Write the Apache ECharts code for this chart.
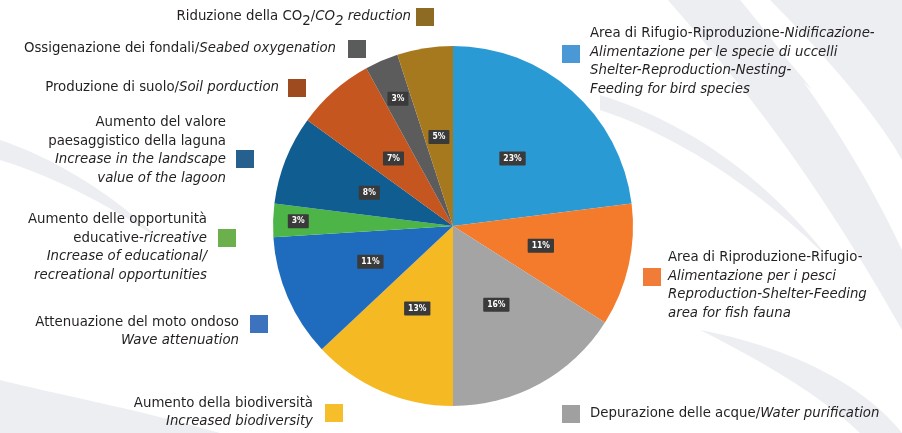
<!DOCTYPE html>
<html>
<head>
<meta charset="utf-8">
<script src="https://cdn.jsdelivr.net/npm/echarts@6/dist/echarts.min.js"></script>
<style>
  html, body { margin: 0; padding: 0; background: #ffffff; }
  #chart { width: 902px; height: 433px; }
</style>
</head>
<body>
<div id="chart"></div>
<script>
// Ecosystem services of the lagoon wetlands, share of total (%)
const categories = [
  'Area di Rifugio-Riproduzione-Nidificazione-Alimentazione per le specie di uccelli',
  'Area di Riproduzione-Rifugio-Alimentazione per i pesci',
  'Depurazione delle acque',
  'Aumento della biodiversità',
  'Attenuazione del moto ondoso',
  'Aumento delle opportunità educative-ricreative',
  'Aumento del valore paesaggistico della laguna',
  'Produzione di suolo',
  'Ossigenazione dei fondali',
  'Riduzione della CO2'
];
const values = [23, 11, 16, 13, 11, 3, 8, 7, 3, 5];
const sliceColors = ['#2a9ad5', '#f37b2b', '#a4a4a4', '#f5b924', '#1f6cbe',
                     '#4db548', '#0f5d91', '#c6561f', '#5c5c5c', '#a7791f'];
const keyColors = ['#4a99d6', '#f07c38', '#a0a0a0', '#f7be2b', '#3d72bf',
                   '#6bb04d', '#25608f', '#9e4b1f', '#5a5c5c', '#8e6b22'];
// How far out (fraction of radius) each percentage tag sits
const labelRadius = [0.5, 0.5, 0.5, 0.5, 0.5, 0.86, 0.5, 0.5, 0.77, 0.5];

// Legend text, one array of lines per category; each token is [text, style]
// where style 'n' = upright, 'i' = italic, 's'/'si' = subscript
const legendLines = [
  [[['Area di Rifugio-Riproduzione-', 'n'], ['Nidificazione-', 'i']],
   [['Alimentazione per le specie di uccelli', 'i']],
   [['Shelter-Reproduction-Nesting-', 'i']],
   [['Feeding for bird species', 'i']]],
  [[['Area di Riproduzione-Rifugio-', 'n']],
   [['Alimentazione per i pesci', 'i']],
   [['Reproduction-Shelter-Feeding', 'i']],
   [['area for fish fauna', 'i']]],
  [[['Depurazione delle acque/', 'n'], ['Water purification', 'i']]],
  [[['Aumento della biodiversità', 'n']],
   [['Increased biodiversity', 'i']]],
  [[['Attenuazione del moto ondoso', 'n']],
   [['Wave attenuation', 'i']]],
  [[['Aumento delle opportunità', 'n']],
   [['educative-', 'n'], ['ricreative', 'i']],
   [['Increase of educational/', 'i']],
   [['recreational opportunities', 'i']]],
  [[['Aumento del valore', 'n']],
   [['paesaggistico della laguna', 'n']],
   [['Increase in the landscape', 'i']],
   [['value of the lagoon', 'i']]],
  [[['Produzione di suolo/', 'n'], ['Soil porduction', 'i']]],
  [[['Ossigenazione dei fondali/', 'n'], ['Seabed oxygenation', 'i']]],
  [[['Riduzione della CO', 'n'], ['2', 's'], ['/', 'n'], ['CO', 'i'], ['2', 'si'], [' reduction', 'i']]]
];

// Placement of each legend entry: text anchor, alignment, and key square
const legendPlace = [
  { x: 590, y: 61,  align: 'left',  sq: [562, 45] },
  { x: 668, y: 285, align: 'left',  sq: [643, 268] },
  { x: 590, y: 413, align: 'left',  sq: [562, 405] },
  { x: 313, y: 412, align: 'right', sq: [325, 404] },
  { x: 239, y: 331, align: 'right', sq: [250, 315] },
  { x: 207, y: 247, align: 'right', sq: [218, 229] },
  { x: 226, y: 150, align: 'right', sq: [236, 150] },
  { x: 279, y: 87,  align: 'right', sq: [288, 79] },
  { x: 336, y: 48,  align: 'right', sq: [348, 40] },
  { x: 411, y: 16,  align: 'right', sq: [416, 8] }
];

const FONT = '"Liberation Sans Narrow", "DejaVu Sans Condensed", "Noto Sans", sans-serif';
const FS = 14.8;
const TEXT_COLOR = '#231f20';
const LINE_H = 18.6;
const SUB_DROP = 5;

const richStyles = {
  n: { fontFamily: FONT, fontSize: FS, color: TEXT_COLOR, lineHeight: LINE_H },
  i: { fontFamily: FONT, fontSize: FS, fontStyle: 'italic', color: TEXT_COLOR, lineHeight: LINE_H }
};

function richString(lines) {
  return lines.map(line => line.map(([t, s]) => '{' + s + '|' + t + '}').join('')).join('\n');
}

const measureCtx = document.createElement('canvas').getContext('2d');
function tokenFont(s) {
  return (s === 'i' || s === 'si' ? 'italic ' : '') + FS + 'px ' + FONT;
}
function tokenWidth(t, s) {
  measureCtx.font = tokenFont(s);
  return measureCtx.measureText(t).width;
}

// Turn a simple M/L/C/Z outline into polygon points
function outline(d) {
  const tok = d.match(/[MLCZ]|-?\d+(\.\d+)?/g);
  const pts = [];
  let i = 0, cur = [0, 0];
  const num = () => parseFloat(tok[i++]);
  while (i < tok.length) {
    const cmd = tok[i++];
    if (cmd === 'M' || cmd === 'L') {
      cur = [num(), num()];
      pts.push(cur);
    } else if (cmd === 'C') {
      const p1 = [num(), num()], p2 = [num(), num()], p3 = [num(), num()];
      const p0 = cur;
      for (let s = 1; s <= 24; s++) {
        const t = s / 24, u = 1 - t;
        pts.push([
          u*u*u*p0[0] + 3*u*u*t*p1[0] + 3*u*t*t*p2[0] + t*t*t*p3[0],
          u*u*u*p0[1] + 3*u*u*t*p1[1] + 3*u*t*t*p2[1] + t*t*t*p3[1]
        ]);
      }
      cur = p3;
    }
  }
  return pts;
}

// Faint background swooshes
const BG = '#eceef2';
const backdrop = [
  'M 668 0 C 720 60 800 150 902 330 L 902 250 C 850 140 790 60 740 0 Z',
  'M 770 0 C 830 60 880 120 902 160 L 902 0 Z',
  'M 600 95 C 680 120 760 170 830 260 C 770 200 690 140 600 110 Z',
  'M 700 330 C 780 345 860 380 902 433 L 860 433 C 820 395 760 360 700 330 Z',
  'M 0 380 C 60 395 140 410 220 433 L 0 433 Z',
  'M 0 140 C 60 160 120 200 160 240 C 110 205 50 175 0 160 Z',
  'M 720 0 C 760 30 790 60 812 90 C 780 60 750 30 705 0 Z'
];

const graphics = [];
backdrop.forEach(p => graphics.push({
  type: 'polygon', shape: { points: outline(p) }, style: { fill: BG }, z: -10, silent: true
}));

legendLines.forEach((lines, k) => {
  const pl = legendPlace[k];
  graphics.push({
    type: 'rect',
    shape: { x: pl.sq[0], y: pl.sq[1], width: 18, height: 18 },
    style: { fill: keyColors[k] },
    silent: true
  });
  const hasSub = lines.some(line => line.some(([, s]) => s[0] === 's'));
  if (!hasSub) {
    graphics.push({
      type: 'text',
      x: pl.x, y: pl.y,
      style: {
        text: richString(lines),
        rich: richStyles,
        align: pl.align,
        verticalAlign: 'middle',
        font: FS + 'px ' + FONT,
        fill: TEXT_COLOR
      },
      silent: true
    });
  } else {
    // single line with subscripts: lay the pieces out one after another
    const toks = lines[0];
    const widths = toks.map(([t, s]) => tokenWidth(t, s));
    const total = widths.reduce((a, b) => a + b, 0);
    let x = pl.align === 'right' ? pl.x - total : pl.x;
    toks.forEach(([t, s], j) => {
      graphics.push({
        type: 'text',
        x: x, y: pl.y + (s[0] === 's' ? SUB_DROP : 0),
        style: {
          text: t,
          font: tokenFont(s),
          fill: TEXT_COLOR,
          align: 'left',
          verticalAlign: 'middle'
        },
        silent: true
      });
      x += widths[j];
    });
  }
});

const CENTER = [453, 226];
const RADIUS = 180;
const totalValue = values.reduce((a, b) => a + b, 0);
const cumBefore = values.map((v, k) => values.slice(0, k).reduce((a, b) => a + b, 0));

const chart = echarts.init(document.getElementById('chart'), null, { renderer: 'canvas' });
chart.setOption({
  backgroundColor: '#ffffff',
  animation: false,
  graphic: graphics,
  series: [{
    type: 'pie',
    center: CENTER,
    radius: [0, RADIUS],
    startAngle: 90,
    clockwise: true,
    avoidLabelOverlap: false,
    itemStyle: { borderWidth: 0 },
    label: {
      show: true,
      position: 'inside',
      formatter: '{c}%',
      color: '#ffffff',
      fontFamily: FONT,
      fontSize: 8.5,
      fontWeight: 'bold',
      backgroundColor: '#3a3a3a',
      padding: [3, 4, 2, 4],
      borderRadius: 1
    },
    labelLayout: function (params) {
      const k = params.dataIndex;
      const a = (cumBefore[k] + values[k] / 2) / totalValue * 2 * Math.PI;
      const r = labelRadius[k] * RADIUS;
      return {
        x: CENTER[0] + r * Math.sin(a),
        y: CENTER[1] - r * Math.cos(a),
        align: 'center',
        verticalAlign: 'middle'
      };
    },
    labelLine: { show: false },
    emphasis: { disabled: true },
    data: categories.map((name, k) => ({
      name: name,
      value: values[k],
      itemStyle: { color: sliceColors[k] }
    }))
  }]
});
</script>
</body>
</html>
